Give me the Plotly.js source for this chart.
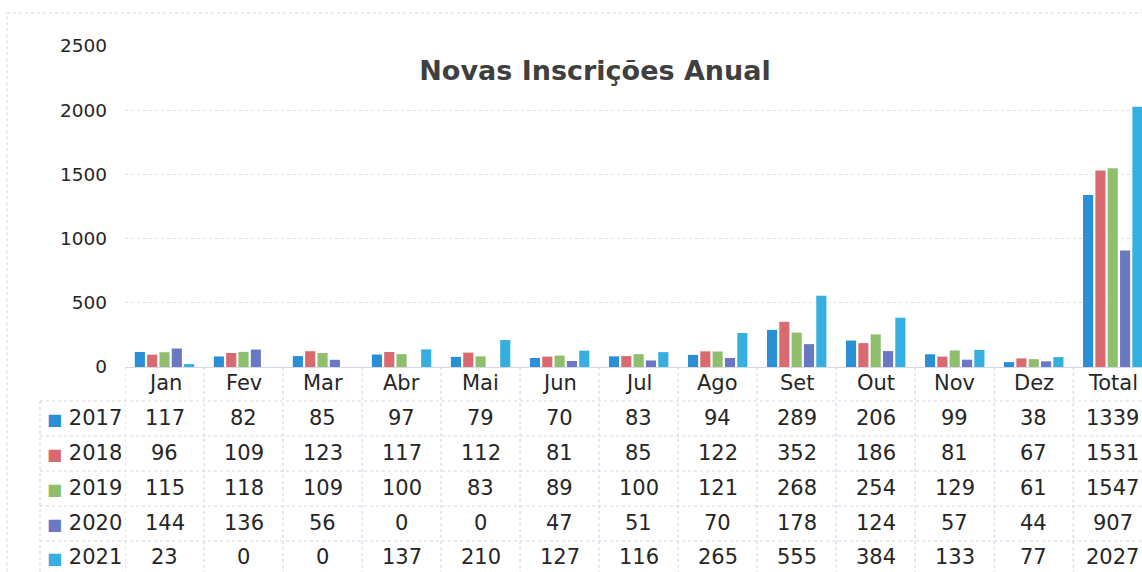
<!DOCTYPE html>
<html>
<head>
<meta charset="utf-8">
<script src="https://cdn.plot.ly/plotly-3.0.1.min.js"></script>
<style>html,body{margin:0;padding:0;background:#fff;overflow:hidden}</style>
</head>
<body>
<div id="chart" style="width:1142px;height:572px"></div>
<script>
const categories = ["Jan","Fev","Mar","Abr","Mai","Jun","Jul","Ago","Set","Out","Nov","Dez","Total"];
const years = ["2017","2018","2019","2020","2021"];
const v2017 = [117,82,85,97,79,70,83,94,289,206,99,38,1339];
const v2018 = [96,109,123,117,112,81,85,122,352,186,81,67,1531];
const v2019 = [115,118,109,100,83,89,100,121,268,254,129,61,1547];
const v2020 = [144,136,56,0,0,47,51,70,178,124,57,44,907];
const v2021 = [23,0,0,137,210,127,116,265,555,384,133,77,2027];
const series = [v2017,v2018,v2019,v2020,v2021];
const colors = ["#2a8fd4","#d96a6f","#8fbf6c","#6a78c4","#35aee0"];
const yTicks = [0,500,1000,1500,2000,2500];

// layout geometry (pixels)
const W = 1142, H = 572, L = 125, T = 46, B = 205;
const plotH = H - T - B, plotW = W - L;
const py = p => (H - B - p) / plotH;      // pixel y -> paper y
const px = p => (p - L) / plotW;          // pixel x -> paper x

const traces = series.map((vals, i) => ({
  type: "bar", name: years[i], x: categories, y: vals,
  marker: {color: colors[i]}, showlegend: false, hoverinfo: "x+y+name"
}));

const font = "DejaVu Sans, Verdana, sans-serif";
const textColor = "#262626";
const annotations = [];
const rowY = [418, 453, 488, 523, 557];
series.forEach((vals, i) => {
  vals.forEach((v, j) => {
    annotations.push({x: categories[j], xref: "x", y: py(rowY[i]), yref: "paper",
      text: String(v), showarrow: false, xanchor: "center", yanchor: "middle",
      font: {family: font, size: 21, color: textColor}});
  });
  annotations.push({x: px(45), xref: "paper", y: py(rowY[i]), yref: "paper",
    text: '<span style="color:' + colors[i] + ';font-size:16px">■</span> ' + years[i],
    showarrow: false, xanchor: "left", yanchor: "middle",
    font: {family: font, size: 21, color: textColor}});
});
categories.forEach(c => {
  annotations.push({x: c, xref: "x", y: py(383), yref: "paper", text: c,
    showarrow: false, xanchor: "center", yanchor: "middle",
    font: {family: font, size: 21, color: textColor}});
});

const gridColor = "#d6d6e6";
const shapes = [];
const hLines = [401, 436, 471, 506, 541];
hLines.forEach(y => shapes.push({type: "line", xref: "paper", yref: "paper",
  x0: px(40), x1: 1.05, y0: py(y), y1: py(y), line: {color: gridColor, width: 1.2, dash: "dot"}}));
for (let j = 0; j <= categories.length; j++) {
  shapes.push({type: "line", xref: "x", yref: "paper", x0: j - 0.5, x1: j - 0.5,
    y0: 0, y1: py(580), line: {color: gridColor, width: 1.2, dash: "dot"}});
}
shapes.push({type: "line", xref: "paper", yref: "paper", x0: px(40), x1: px(40),
  y0: py(401), y1: py(580), line: {color: gridColor, width: 1.2, dash: "dot"}});
shapes.push({type: "rect", xref: "paper", yref: "paper", x0: px(7), x1: 1.05,
  y0: py(590), y1: py(13), line: {color: "#dadada", width: 1.2, dash: "dot"}});

const layout = {
  width: W, height: H,
  margin: {l: L, r: 0, t: T, b: B, pad: 0},
  paper_bgcolor: "#fff", plot_bgcolor: "#fff",
  barmode: "group", bargap: 0.22, bargroupgap: 0.18,
  title: {text: "<b>Novas Inscrições Anual</b>", x: 595 / W, xref: "container", xanchor: "center",
    y: py(71), yref: "paper", yanchor: "middle",
    font: {family: font, size: 27, color: "#3f3f3f"}},
  xaxis: {type: "category", range: [-0.5, 12.37], showticklabels: false, ticks: "",
    showgrid: false, showline: true, linecolor: gridColor, linewidth: 1.2, zeroline: false,
    fixedrange: true},
  yaxis: {range: [0, 2500], tickvals: yTicks, ticktext: yTicks.map(String), showgrid: true,
    gridcolor: "#dcdcec", griddash: "dot", gridwidth: 1.2, zeroline: false, showline: false,
    ticks: "", ticklabelstandoff: 17, tickfont: {family: font, size: 18.5, color: textColor},
    fixedrange: true},
  annotations: annotations,
  shapes: shapes
};

Plotly.newPlot("chart", traces, layout, {displayModeBar: false, staticPlot: true});
</script>
</body>
</html>
